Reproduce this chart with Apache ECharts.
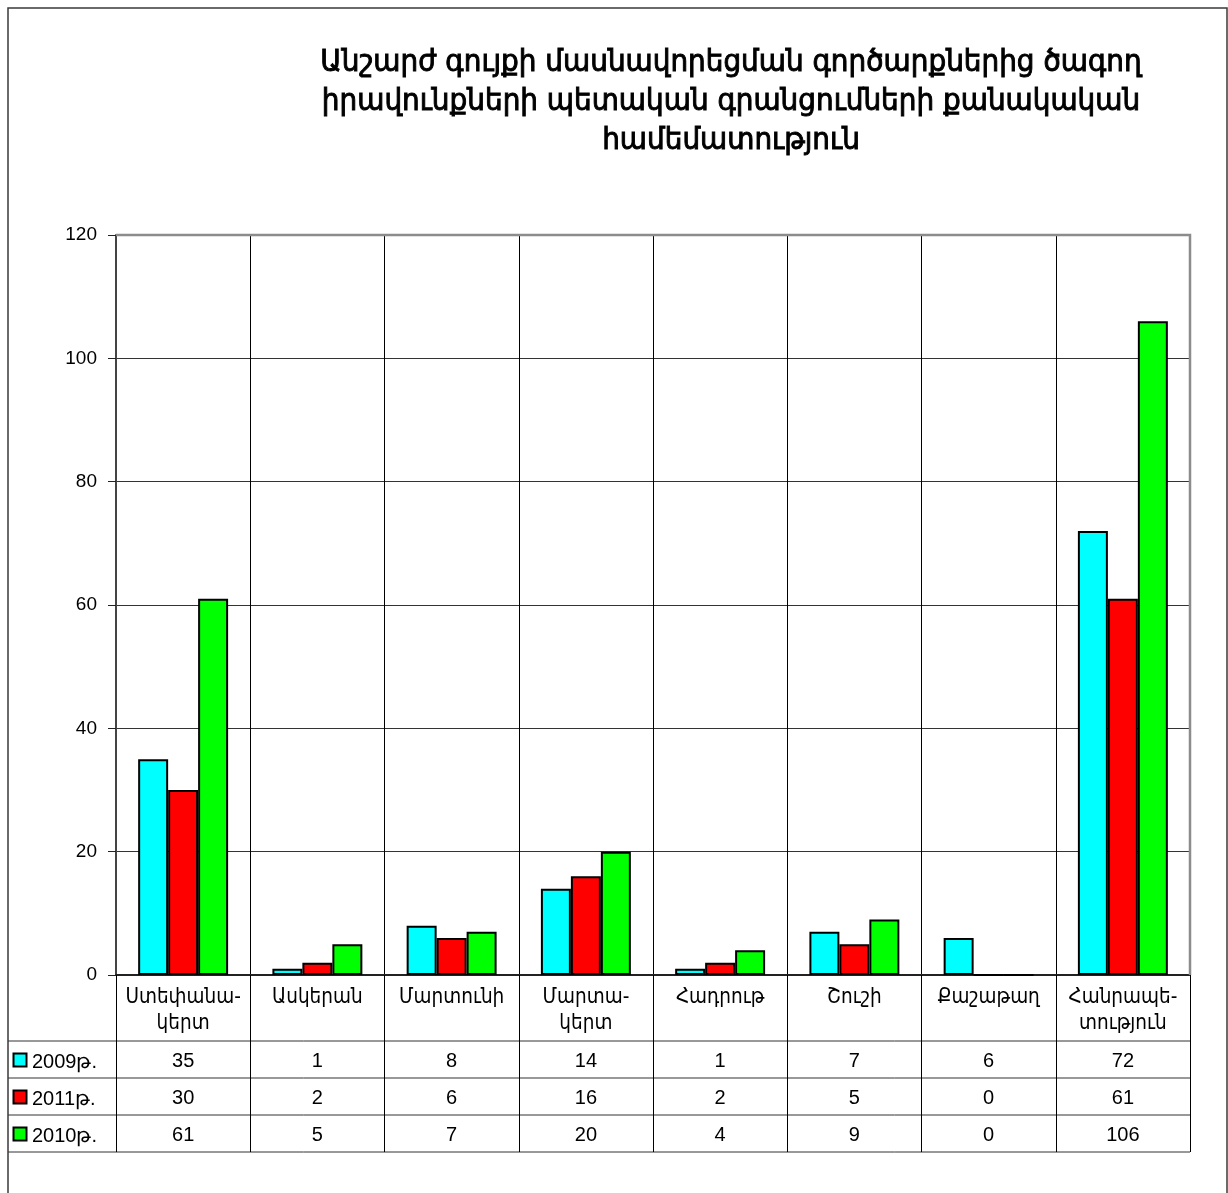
<!DOCTYPE html>
<html><head><meta charset="utf-8">
<script src="https://cdn.jsdelivr.net/npm/echarts@6/dist/echarts.min.js"></script>
<style>html,body{margin:0;padding:0;background:#fff}#c{width:1228px;height:1193px}</style>
</head><body><div id="c"></div>
<script>
const titleText = 'Անշարժ գույքի մասնավորեցման գործարքներից ծագող\nիրավունքների պետական գրանցումների քանակական\nհամեմատություն';
const categories = ['Ստեփանա-\nկերտ','Ասկերան','Մարտունի','Մարտա-\nկերտ','Հադրութ','Շուշի','Քաշաթաղ','Հանրապե-\nտություն'];
const seriesNames = ['2009թ.','2011թ.','2010թ.'];
const values2009 = [35,1,8,14,1,7,6,72];
const values2011 = [30,2,6,16,2,5,0,61];
const values2010 = [61,5,7,20,4,9,0,106];
const yTicks = [0,20,40,60,80,100,120];

const seriesValues = [values2009, values2011, values2010];
const colors = ['#00FFFF','#FF0000','#00FF00'];
const armFont = '"DejaVu Sans Condensed","DejaVu Sans",sans-serif';
const numFont = '"Liberation Sans",Arial,sans-serif';

const chart = echarts.init(document.getElementById('c'), null, {renderer:'canvas'});
const GL=116, GR=1190, GT=235, GB=975;
chart.setOption({
  animation:false,
  backgroundColor:'#fff',
  title:{text:titleText,left:726,top:38,textAlign:'center',
    textStyle:{fontFamily:armFont,fontSize:31,fontWeight:'normal',color:'#000',lineHeight:39,
      textBorderColor:'#000',textBorderWidth:0.9}},
  grid:{left:GL,right:1228-GR,top:GT,bottom:1193-GB,show:false},
  xAxis:{type:'category',data:categories,
    axisLine:{lineStyle:{color:'#222',width:2}},
    axisTick:{show:true,length:177,lineStyle:{color:'#000',width:1}},
    axisLabel:{interval:0,fontFamily:armFont,fontSize:20.5,color:'#000',lineHeight:26,margin:10},
    splitLine:{show:true,interval:0,lineStyle:{color:'#000',width:1}}},
  yAxis:{type:'value',min:0,max:120,interval:20,
    axisLine:{show:true,lineStyle:{color:'#444',width:2}},
    axisTick:{show:true,length:8,lineStyle:{color:'#222'}},
    axisLabel:{fontFamily:numFont,fontSize:19,color:'#000',margin:19,
      formatter:v=>yTicks.includes(v)?String(v):''},
    splitLine:{lineStyle:{color:'#333',width:1}}},
  series: seriesNames.map((n,i)=>({name:n,type:'bar',data:seriesValues[i],barGap:'0%',barCategoryGap:'33%',
    itemStyle:{color:colors[i],borderColor:'#000',borderWidth:2}}))
});

// Data table below the chart, plus frame
const rowLines=[1041,1078,1115,1152];
const g=[];
g.push({type:'rect',z:100,shape:{x:8,y:8,width:1219,height:1200},style:{fill:'none',stroke:'#3a3a3a',lineWidth:1.5},silent:true});
g.push({type:'polyline',z:100,shape:{points:[[GL,GT],[GR,GT],[GR,GB]]},style:{fill:'none',stroke:'#8c8c8c',lineWidth:2.5}});
rowLines.forEach(y=>g.push({type:'line',shape:{x1:8,y1:y,x2:GR,y2:y},style:{stroke:'#333',lineWidth:1}}));
const xs=categories.map((c,i)=>chart.convertToPixel({xAxisIndex:0},i));
seriesNames.forEach((n,r)=>{
  const cy=(rowLines[r]+rowLines[r+1])/2+1.5;
  g.push({type:'rect',shape:{x:13.5,y:cy-7.5,width:13,height:13},style:{fill:colors[r],stroke:'#000',lineWidth:2}});
  g.push({type:'text',x:32,y:cy+1,style:{text:n,fontFamily:numFont,fontSize:20,fill:'#000',textVerticalAlign:'middle',verticalAlign:'middle'}});
  seriesValues[r].forEach((v,i)=>{
    g.push({type:'text',x:xs[i],y:cy,style:{text:String(v),fontFamily:numFont,fontSize:20,fill:'#000',align:'center',verticalAlign:'middle',textAlign:'center',textVerticalAlign:'middle'}});
  });
});
chart.setOption({graphic:g});
</script></body></html>
